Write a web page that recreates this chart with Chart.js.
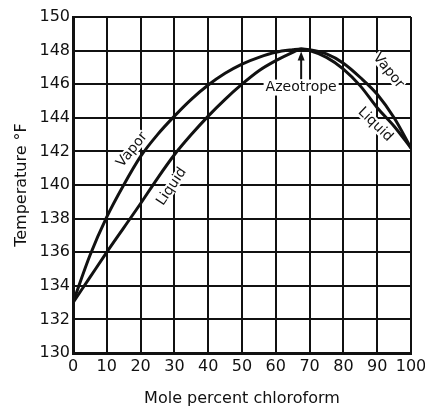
<!DOCTYPE html>
<html>
<head>
<meta charset="utf-8">
<script src="https://cdn.jsdelivr.net/npm/chart.js@4.4.0/dist/chart.umd.min.js"></script>
<style>
  html, body { margin: 0; padding: 0; background: #fff; }
  #wrap { width: 425px; height: 412px; }
</style>
</head>
<body>
<div id="wrap"><canvas id="chart"></canvas></div>
<script>
// mole percent chloroform
const molePct = [0, 5, 10, 15, 20, 25, 30, 35, 40, 45, 50, 55, 60, 65, 67.5, 70, 75, 80, 85, 90, 95, 100];
// temperature, deg F
const vaporTemp = [133, 135.8, 138.1, 140.0, 141.7, 143.0, 144.1, 145.1, 145.95, 146.65, 147.2, 147.6, 147.9, 148.05, 148.1, 148.05, 147.8, 147.25, 146.4, 145.4, 144.0, 142.2];
const liquidTemp = [133, 134.5, 136, 137.45, 138.9, 140.4, 141.8, 143.0, 144.1, 145.1, 146.0, 146.8, 147.4, 147.9, 148.1, 148.0, 147.6, 146.9, 145.9, 144.6, 143.5, 142.2];

const xTicks = [0, 10, 20, 30, 40, 50, 60, 70, 80, 90, 100];
const yTicks = [130, 132, 134, 136, 138, 140, 142, 144, 146, 148, 150];

const azeotrope = { x: 67.5, y: 148 };

// curve labels: [text, x, y, angle in degrees]
const curveLabels = [
  ['Vapor', 17.5, 142.1, -51],
  ['Liquid', 29.2, 139.9, -56],
  ['Vapor', 93.3, 146.8, 51],
  ['Liquid', 89.4, 143.6, 44],
];

const FONT = '"DejaVu Sans", sans-serif';

function toPoints(xs, ys) {
  return xs.map((x, i) => ({ x: x, y: ys[i] }));
}

const labelsPlugin = {
  id: 'labels',
  afterDatasetsDraw(chart) {
    const ctx = chart.ctx;
    const xs = chart.scales.x;
    const ys = chart.scales.y;
    ctx.save();
    ctx.font = '14px ' + FONT;
    ctx.textAlign = 'center';
    ctx.textBaseline = 'middle';
    curveLabels.forEach(([text, x, y, ang]) => {
      const px = xs.getPixelForValue(x);
      const py = ys.getPixelForValue(y);
      ctx.save();
      ctx.translate(px, py);
      ctx.rotate(ang * Math.PI / 180);
      const w = ctx.measureText(text).width;
      ctx.fillStyle = '#fff';
      ctx.fillRect(-w / 2 - 1, -6, w + 2, 12);
      ctx.fillStyle = '#111';
      ctx.fillText(text, 0, 0);
      ctx.restore();
    });

    // azeotrope label and arrow
    const ax = xs.getPixelForValue(azeotrope.x);
    const ay = ys.getPixelForValue(azeotrope.y);
    const ty = ys.getPixelForValue(145.8);
    const txt = 'Azeotrope';
    const w = ctx.measureText(txt).width;
    ctx.fillStyle = '#fff';
    ctx.fillRect(ax - w / 2 - 2, ty - 8, w + 4, 16);
    ctx.fillStyle = '#111';
    ctx.fillText(txt, ax, ty);

    const tail = ys.getPixelForValue(146.3);
    ctx.strokeStyle = '#111';
    ctx.lineWidth = 2;
    ctx.beginPath();
    ctx.moveTo(ax, tail);
    ctx.lineTo(ax, ay + 6);
    ctx.stroke();
    ctx.beginPath();
    ctx.moveTo(ax, ay + 1);
    ctx.lineTo(ax - 3.5, ay + 10);
    ctx.lineTo(ax + 3.5, ay + 10);
    ctx.closePath();
    ctx.fill();
    ctx.restore();
  }
};

new Chart(document.getElementById('chart'), {
  type: 'line',
  data: {
    datasets: [
      {
        label: 'Vapor',
        data: toPoints(molePct, vaporTemp),
        borderColor: '#111',
        borderWidth: 3,
        pointRadius: 0,
        cubicInterpolationMode: 'monotone',
      },
      {
        label: 'Liquid',
        data: toPoints(molePct, liquidTemp),
        borderColor: '#111',
        borderWidth: 3,
        pointRadius: 0,
        cubicInterpolationMode: 'monotone',
      },
    ],
  },
  options: {
    responsive: true,
    maintainAspectRatio: false,
    animation: false,
    layout: { padding: { top: 17, right: 0, left: 0, bottom: 0 } },
    plugins: {
      legend: { display: false },
      tooltip: { enabled: false },
    },
    scales: {
      x: {
        type: 'linear',
        min: 0,
        max: 100,
        afterBuildTicks: (s) => { s.ticks = xTicks.map(v => ({ value: v })); },
        afterFit: (s) => { s.height = 59; s.paddingRight = 14; },
        grid: { color: '#111', lineWidth: 2, drawTicks: false },
        border: { color: '#111', width: 3 },
        ticks: {
          color: '#111',
          padding: 4,
          maxRotation: 0,
          autoSkip: false,
          font: { family: FONT, size: 16 },
        },
        title: {
          display: true,
          text: 'Mole percent chloroform',
          color: '#111',
          padding: { top: 10 },
          font: { family: FONT, size: 16 },
        },
      },
      y: {
        min: 130,
        max: 150,
        afterBuildTicks: (s) => { s.ticks = yTicks.map(v => ({ value: v })); },
        afterFit: (s) => { s.width = 73; },
        grid: { color: '#111', lineWidth: 2, drawTicks: false },
        border: { color: '#111', width: 3 },
        ticks: {
          color: '#111',
          padding: 3,
          autoSkip: false,
          font: { family: FONT, size: 16 },
        },
        title: {
          display: true,
          text: 'Temperature °F',
          color: '#111',
          padding: { top: 12, bottom: 0 },
          font: { family: FONT, size: 16 },
        },
      },
    },
  },
  plugins: [labelsPlugin],
});
</script>
</body>
</html>
